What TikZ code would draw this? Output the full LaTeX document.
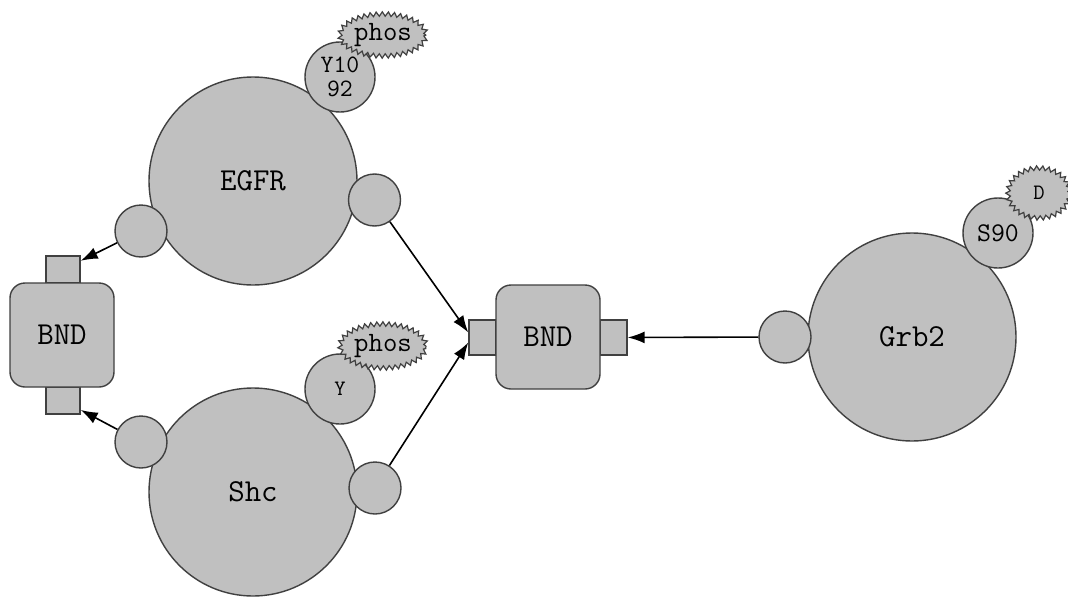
\documentclass[tikz,border=0pt]{standalone}
\usepackage{tikz}
\usetikzlibrary{arrows.meta,shapes.geometric,decorations.pathmorphing}
\definecolor{agentgray}{HTML}{C0C0C0}
\definecolor{rimgray}{HTML}{404040}
\tikzset{
  >={Latex[length=17pt,width=12pt]},
  agent/.style={circle,draw=rimgray,fill=agentgray,line width=1.4pt,minimum size=208pt,inner sep=0pt,font=\fontsize{32}{32}\ttfamily},
  site/.style={circle,draw=rimgray,fill=agentgray,line width=1.4pt,minimum size=52pt,inner sep=0pt},
  residue/.style={circle,draw=rimgray,fill=agentgray,line width=1.4pt,minimum size=70pt,inner sep=0pt,align=center,font=\fontsize{25}{24}\ttfamily},
  stateblob/.style={ellipse,draw=rimgray,fill=agentgray,line width=1.2pt,inner sep=0pt,decorate,decoration={zigzag,segment length=6pt,amplitude=2.2pt},font=\fontsize{28}{28}\ttfamily},
  bndbox/.style={rectangle,rounded corners=15pt,draw=rimgray,fill=agentgray,line width=1.4pt,minimum width=104pt,minimum height=104pt,inner sep=0pt,font=\fontsize{32}{32}\ttfamily},
  portbox/.style={rectangle,draw=rimgray,fill=agentgray,line width=1.4pt,inner sep=0pt},
  link/.style={->,line width=1.6pt}
}
\begin{document}
\begin{tikzpicture}[x=1pt,y=-1pt]
  \useasboundingbox[fill=white] (0,0) rectangle (1068,597);

  % left bond box
  \node[portbox,minimum width=34pt,minimum height=27pt] (lbt) at (63,269.5) {};
  \node[portbox,minimum width=34pt,minimum height=27pt] (lbb) at (63,400.5) {};
  \node[bndbox] (lbnd) at (62,335) {BND};

  % middle bond box
  \node[portbox,minimum width=27pt,minimum height=35pt] (mbl) at (482.5,337.5) {};
  \node[portbox,minimum width=27pt,minimum height=35pt] (mbr) at (613.5,337.5) {};
  \node[bndbox] (mbnd) at (548,337) {BND};

  % EGFR
  \node[agent] (egfr) at (253,181) {EGFR};
  \node[residue] (y1092) at (340,77) {Y10\\92};
  \node[stateblob,minimum width=86pt,minimum height=42pt] (ephos) at (383,35) {phos};
  \node[site] (egl) at (141,231) {};
  \node[site] (egr) at (374.5,200) {};

  % Shc
  \node[agent] (shc) at (253,492) {Shc};
  \node[residue,font=\fontsize{22}{22}\ttfamily] (ysite) at (340,389) {Y};
  \node[stateblob,minimum width=86pt,minimum height=44pt] (sphos) at (383,346) {phos};
  \node[site] (shl) at (141,442) {};
  \node[site] (shr) at (375,488) {};

  % Grb2
  \node[agent] (grb) at (912,337) {Grb2};
  \node[residue,font=\fontsize{27}{27}\ttfamily] (s90) at (998,233) {S90};
  \node[stateblob,minimum width=62pt,minimum height=50pt,font=\fontsize{22}{22}\ttfamily] (dstate) at (1039,193) {D};
  \node[site] (grl) at (785,337) {};

  % bonds
  \draw[link] (egl) -- (lbt);
  \draw[link] (shl) -- (lbb);
  \draw[link] (egr) -- ([yshift=5pt]mbl.west);
  \draw[link] (shr) -- ([yshift=-5pt]mbl.west);
  \draw[link] (grl) -- (mbr);
\end{tikzpicture}
\end{document}
